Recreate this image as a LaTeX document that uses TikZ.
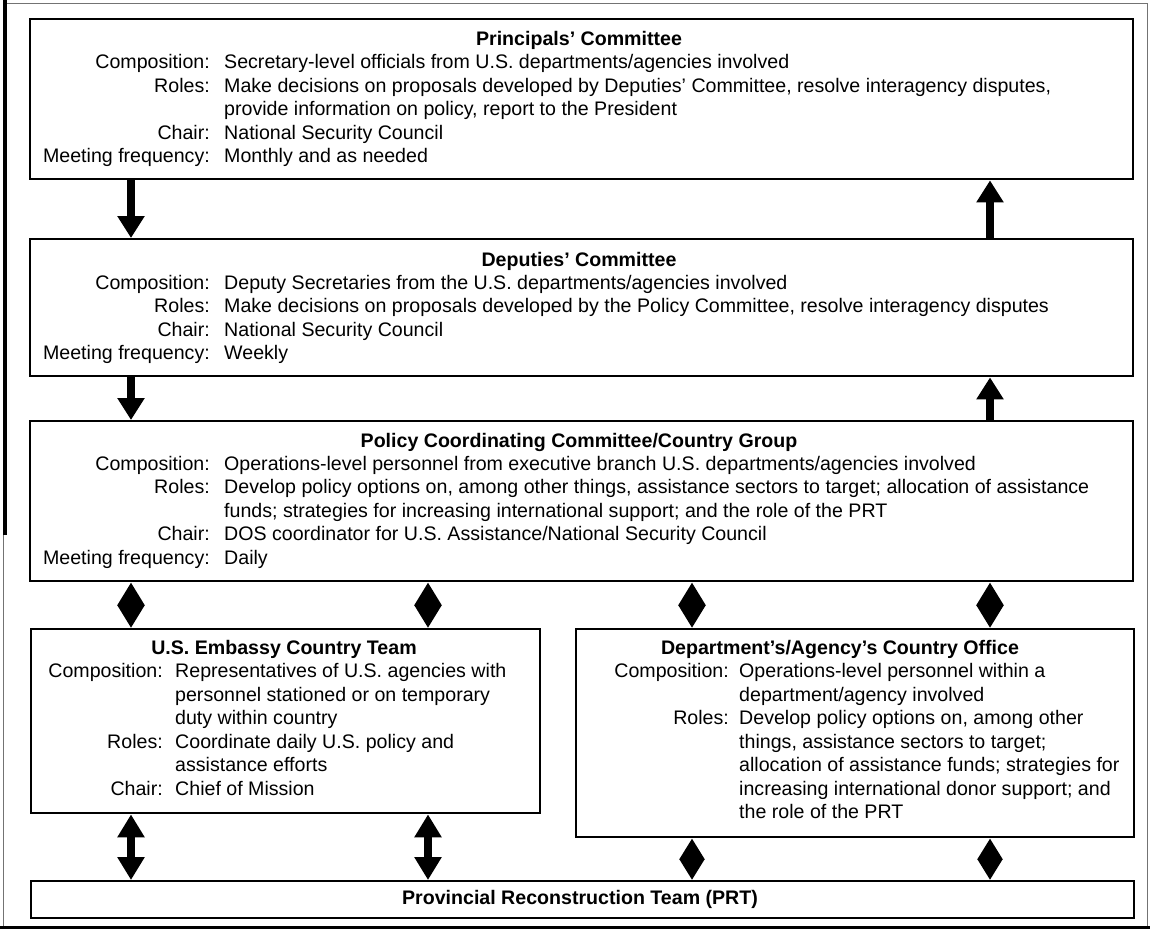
\documentclass[tikz,border=0pt]{standalone}
\usepackage{fontspec}
\setmainfont{Liberation Sans}
\usetikzlibrary{arrows.meta}
\newcommand\dfont{\fontsize{19.6}{23.6}\selectfont}
\tikzset{
  box/.style={draw=black, line width=2.4pt, fill=white, inner sep=0pt, anchor=north west},
  lab/.style={anchor=base east, inner sep=0pt, font=\dfont},
  val/.style={anchor=base west, inner sep=0pt, font=\dfont},
  ttl/.style={anchor=base, inner sep=0pt, font=\dfont\bfseries},
  arr/.style={line width=8pt, -{Triangle[width=26pt,length=22pt]}},
  darr/.style={line width=8pt, {Triangle[width=26pt,length=23pt]}-{Triangle[width=26pt,length=23pt]}},
  sarr/.style={line width=7pt, {Triangle[width=24pt,length=21pt]}-{Triangle[width=24pt,length=21pt]}}
}
\begin{document}
\begin{tikzpicture}[x=1pt,y=-1pt]
\useasboundingbox (0,0) rectangle (1150,929);
% outer frame
\draw[line width=1pt, black!55] (3,3) rectangle (1147,926);
\draw[line width=4pt] (5,0) -- (5,535);
\draw[line width=3pt] (0,927) -- (1150,927);

% boxes
\node[box, minimum width=1103pt, minimum height=160pt] (pc) at (29,18) {};
\node[box, minimum width=1103pt, minimum height=137pt] (dc) at (29,238) {};
\node[box, minimum width=1103pt, minimum height=160pt] (pcc) at (29,420) {};
\node[box, minimum width=509pt, minimum height=184pt] (emb) at (30,628) {};
\node[box, minimum width=558pt, minimum height=208pt] (dep) at (575,628) {};
\node[box, minimum width=1103pt, minimum height=37pt] (prt) at (30,880) {};

% Principals' Committee
\node[ttl] (pc-t) at (579,45) {Principals' Committee};
\node[lab] (pc-l1) at (210,68.5) {Composition:};
\node[val] (pc-v1) at (224,68.5) {Secretary-level officials from U.S. departments/agencies involved};
\node[lab] (pc-l2) at (210,92) {Roles:};
\node[val] (pc-v2) at (224,92) {Make decisions on proposals developed by Deputies' Committee, resolve interagency disputes,};
\node[val] (pc-v2b) at (224,115.5) {provide information on policy, report to the President};
\node[lab] (pc-l3) at (210,139) {Chair:};
\node[val] (pc-v3) at (224,139) {National Security Council};
\node[lab] (pc-l4) at (210,162.5) {Meeting frequency:};
\node[val] (pc-v4) at (224,162.5) {Monthly and as needed};

% Deputies' Committee
\node[ttl] (dc-t) at (579,266) {Deputies' Committee};
\node[lab] (dc-l1) at (210,289) {Composition:};
\node[val] (dc-v1) at (224,289) {Deputy Secretaries from the U.S. departments/agencies involved};
\node[lab] (dc-l2) at (210,312.5) {Roles:};
\node[val] (dc-v2) at (224,312.5) {Make decisions on proposals developed by the Policy Committee, resolve interagency disputes};
\node[lab] (dc-l3) at (210,336) {Chair:};
\node[val] (dc-v3) at (224,336) {National Security Council};
\node[lab] (dc-l4) at (210,359) {Meeting frequency:};
\node[val] (dc-v4) at (224,359) {Weekly};

% Policy Coordinating Committee
\node[ttl] (pcc-t) at (579,447) {Policy Coordinating Committee/Country Group};
\node[lab] (pcc-l1) at (210,470) {Composition:};
\node[val] (pcc-v1) at (224,470) {Operations-level personnel from executive branch U.S. departments/agencies involved};
\node[lab] (pcc-l2) at (210,493.5) {Roles:};
\node[val] (pcc-v2) at (224,493.5) {Develop policy options on, among other things, assistance sectors to target; allocation of assistance};
\node[val] (pcc-v2b) at (224,517) {funds; strategies for increasing international support; and the role of the PRT};
\node[lab] (pcc-l3) at (210,540.5) {Chair:};
\node[val] (pcc-v3) at (224,540.5) {DOS coordinator for U.S. Assistance/National Security Council};
\node[lab] (pcc-l4) at (210,564) {Meeting frequency:};
\node[val] (pcc-v4) at (224,564) {Daily};

% U.S. Embassy Country Team
\node[ttl] (emb-t) at (284,654) {U.S. Embassy Country Team};
\node[lab] (emb-l1) at (163,677.5) {Composition:};
\node[val] (emb-v1) at (175,677.5) {Representatives of U.S. agencies with};
\node[val] (emb-v1b) at (175,701) {personnel stationed or on temporary};
\node[val] (emb-v1c) at (175,724.5) {duty within country};
\node[lab] (emb-l2) at (163,748) {Roles:};
\node[val] (emb-v2) at (175,748) {Coordinate daily U.S. policy and};
\node[val] (emb-v2b) at (175,771.5) {assistance efforts};
\node[lab] (emb-l3) at (163,795) {Chair:};
\node[val] (emb-v3) at (175,795) {Chief of Mission};

% Department's/Agency's Country Office
\node[ttl] (dep-t) at (840,654) {Department's/Agency's Country Office};
\node[lab] (dep-l1) at (729,677.5) {Composition:};
\node[val] (dep-v1) at (739,677.5) {Operations-level personnel within a};
\node[val] (dep-v1b) at (739,701) {department/agency involved};
\node[lab] (dep-l2) at (729,724.5) {Roles:};
\node[val] (dep-v2) at (739,724.5) {Develop policy options on, among other};
\node[val] (dep-v2b) at (739,748) {things, assistance sectors to target;};
\node[val] (dep-v2c) at (739,771.5) {allocation of assistance funds; strategies for};
\node[val] (dep-v2d) at (739,795) {increasing international donor support; and};
\node[val] (dep-v2e) at (739,818.5) {the role of the PRT};

% PRT
\node[ttl] (prt-t) at (580,904.5) {Provincial Reconstruction Team (PRT)};

% arrow columns
\coordinate (xa) at (131,0);
\coordinate (xb) at (428,0);
\coordinate (xc) at (692,0);
\coordinate (xd) at (990,0);

\draw[arr] (pc.south -| xa) -- (dc.north -| xa);
\draw[arr] (dc.north -| xd) -- (pc.south -| xd);
\draw[arr] (dc.south -| xa) -- (pcc.north -| xa);
\draw[arr] (pcc.north -| xd) -- (dc.south -| xd);

\draw[darr] (pcc.south -| xa) -- (emb.north -| xa);
\draw[darr] (pcc.south -| xb) -- (emb.north -| xb);
\draw[darr] (pcc.south -| xc) -- (dep.north -| xc);
\draw[darr] (pcc.south -| xd) -- (dep.north -| xd);

\draw[darr] (emb.south -| xa) -- (prt.north -| xa);
\draw[darr] (emb.south -| xb) -- (prt.north -| xb);
\draw[sarr] (dep.south -| xc) -- (prt.north -| xc);
\draw[sarr] (dep.south -| xd) -- (prt.north -| xd);
\end{tikzpicture}
\end{document}
